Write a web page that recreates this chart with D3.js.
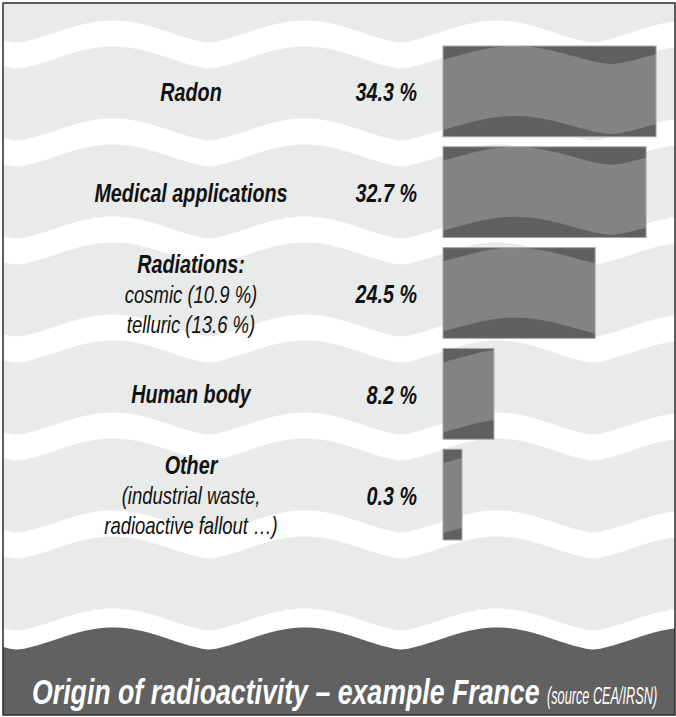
<!DOCTYPE html>
<html lang="en">
<head>
    <meta charset="utf-8">
    <title>Origin of radioactivity</title>
    <script src="https://cdn.jsdelivr.net/npm/d3@7"></script>
    <style type="text/css">
        body { margin: 0; background: #fff; }
        .lab {
            font-family: "Liberation Sans", Arial, sans-serif;
            font-style: italic;
            fill: #111;
        }
    </style>
</head>
<body>
    <script type="text/javascript">

        // data
        var categories = ["Radon", "Medical applications", "Radiations:", "Human body", "Other"];
        var subLabels = [[], [], ["cosmic (10.9 %)", "telluric (13.6 %)"], [], ["(industrial waste,", "radioactive fallout …)"]];
        var shares = [34.3, 32.7, 24.5, 8.2, 0.3];
        var shareLabels = ["34.3 %", "32.7 %", "24.5 %", "8.2 %", "0.3 %"];
        var title = "Origin of radioactivity – example France";
        var source = "(source CEA/IRSN)";

        var width = 676, height = 717;

        var svg = d3.select("body").append("svg")
            .attr("width", width)
            .attr("height", height);

        // wavy shape: 1 at crest, 0 at trough (crests a bit wider than troughs)
        var period = 192;
        function wave(x, crest) {
            var c = (1 + Math.cos(2 * Math.PI * (x - crest) / period)) / 2;
            return Math.pow(c, 0.75);
        }
        var xs = d3.range(0, width + 2, 2);

        var frame = { x: 3, y: 3, w: 672, h: 712 };
        svg.append("clipPath").attr("id", "frameClip")
            .append("rect")
            .attr("x", frame.x).attr("y", frame.y)
            .attr("width", frame.w).attr("height", frame.h);

        var bg = svg.append("g").attr("clip-path", "url(#frameClip)");

        bg.append("rect")
            .attr("x", 0).attr("y", 0)
            .attr("width", width).attr("height", height)
            .attr("fill", "#e9eaea");

        // white stripes
        var bgCrest = 113, amp = 11, stripe = 26, gapStep = 98;
        var stripeArea = function (c0, thick) {
            return d3.area()
                .x(function (x) { return x; })
                .y0(function (x) { return c0 + amp - 2 * amp * wave(x, bgCrest); })
                .y1(function (x) { return c0 + amp - 2 * amp * wave(x, bgCrest) + thick; });
        };
        d3.range(6).forEach(function (k) {
            bg.append("path")
                .attr("d", stripeArea(31.5 + gapStep * k, stripe)(xs))
                .attr("fill", "#fff");
        });

        // footer band
        var footTop = 31.5 + gapStep * 6;
        bg.append("path")
            .attr("d", stripeArea(footTop, 200)(xs))
            .attr("fill", "#fff");
        bg.append("path")
            .attr("d", stripeArea(footTop + 19, 200)(xs))
            .attr("fill", "#606160");

        // scales
        var x = d3.scaleLinear()
            .domain([0, 35])
            .range([443, 660.4]);
        var y = d3.scaleBand()
            .domain(categories)
            .range([46, 540])
            .paddingInner(0.1);

        var minBar = 19;
        var bars = svg.selectAll(".barG")
            .data(categories)
            .enter()
            .append("g")
            .attr("class", "barG");

        bars.each(function (d, i) {
            var g = d3.select(this);
            var x0 = x(0);
            var w = Math.max(x(shares[i]) - x0, minBar);
            var t = y(d), h = y.bandwidth();
            var id = "barClip" + i;
            g.append("clipPath").attr("id", id)
                .append("rect")
                .attr("x", x0).attr("y", t)
                .attr("width", w).attr("height", h);
            var inner = g.append("g").attr("clip-path", "url(#" + id + ")");
            inner.append("rect")
                .attr("x", x0).attr("y", t)
                .attr("width", w).attr("height", h)
                .attr("fill", "#838383");
            var bx = d3.range(x0 - 2, x0 + w + 3, 1);
            var barCrest = 515;
            inner.append("path")
                .attr("d", d3.area()
                    .x(function (v) { return v; })
                    .y0(t - 1)
                    .y1(function (v) { return t + 18 * (1 - wave(v, barCrest)); })(bx))
                .attr("fill", "#5f605f");
            inner.append("path")
                .attr("d", d3.area()
                    .x(function (v) { return v; })
                    .y0(function (v) { return t + 70 + 18 * (1 - wave(v, barCrest)); })
                    .y1(t + h + 1)(bx))
                .attr("fill", "#5f605f");
            g.append("rect")
                .attr("x", x0).attr("y", t)
                .attr("width", w).attr("height", h)
                .attr("fill", "none")
                .attr("stroke", "#a9a9a9")
                .attr("stroke-width", 1);
        });

        // condensed look: squeeze the text horizontally
        function addText(px, py, sx, txt) {
            return svg.append("text")
                .attr("class", "lab")
                .attr("transform", "translate(" + px + "," + py + ") scale(" + sx + ",1)")
                .text(txt);
        }

        // labels
        var lineH = 30, labelX = 191;
        categories.forEach(function (d, i) {
            var lines = [d].concat(subLabels[i]);
            var mid = y(d) + y.bandwidth() / 2;
            lines.forEach(function (txt, j) {
                var by = mid + 9.5 + (j - (lines.length - 1) / 2) * lineH;
                addText(labelX, by, j === 0 ? 0.76 : 0.77, txt)
                    .attr("text-anchor", "middle")
                    .attr("font-size", j === 0 ? 26 : 24)
                    .attr("font-weight", j === 0 ? "bold" : "normal");
            });
            addText(417, mid + 10, 0.76, shareLabels[i])
                .attr("text-anchor", "end")
                .attr("font-size", 26)
                .attr("font-weight", "bold");
        });

        // title in the footer
        addText(32, 704, 0.742, title)
            .attr("font-size", 36)
            .attr("font-weight", "bold")
            .style("fill", "#fff");
        addText(547, 704, 0.53, source)
            .attr("font-size", 24)
            .style("fill", "#fff");

        svg.append("rect")
            .attr("x", frame.x).attr("y", frame.y)
            .attr("width", frame.w).attr("height", frame.h)
            .attr("fill", "none")
            .attr("stroke", "#2b2b2b")
            .attr("stroke-width", 1.5);

    </script>
</body>
</html>
